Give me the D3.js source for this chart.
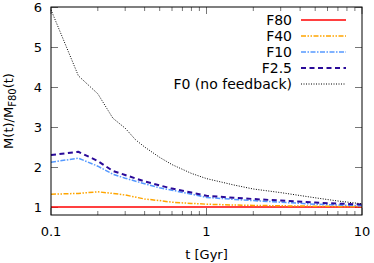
<!DOCTYPE html>
<html>
<head>
<meta charset="utf-8">
<script src="https://cdn.jsdelivr.net/npm/d3@7"></script>
<style>
  body { margin: 0; background: #fff; }
  text { font-family: "DejaVu Sans", sans-serif; }
</style>
</head>
<body>
<div id="chart"></div>
<script>
// time grid [Gyr]
var tF0 = [0.1, 0.15, 0.2, 0.25, 0.3, 0.35, 0.4, 0.5, 0.6, 0.8, 1, 1.5, 2, 3, 5, 7, 10];
var vF0 = [5.93, 4.28, 3.83, 3.22, 2.97, 2.68, 2.5, 2.24, 2.06, 1.84, 1.71, 1.55, 1.45, 1.36, 1.23, 1.15, 1.08];

var tGrid = [0.1, 0.15, 0.2, 0.25, 0.3, 0.4, 0.5, 0.6, 0.8, 1, 1.5, 2, 3, 5, 10];
var vF80 = [1, 1, 1, 1, 1, 1, 1, 1, 1, 1, 1, 1, 1, 1, 1];
var vF40 = [1.32, 1.34, 1.38, 1.34, 1.3, 1.2, 1.16, 1.12, 1.09, 1.07, 1.05, 1.04, 1.03, 1.02, 1.01];
var vF10 = [2.12, 2.22, 2.02, 1.82, 1.72, 1.58, 1.48, 1.42, 1.32, 1.24, 1.19, 1.16, 1.12, 1.07, 1.03];
var vF25 = [2.3, 2.38, 2.15, 1.9, 1.8, 1.64, 1.54, 1.46, 1.36, 1.28, 1.23, 1.2, 1.16, 1.11, 1.06];

var seriesNames = ["F80", "F40", "F10", "F2.5", "F0 (no feedback)"];
var yTicks = [1, 2, 3, 4, 5, 6];
var xTicks = [0.1, 1, 10];

var svgWidth = 374, svgHeight = 263;
var margin = { top: 7, right: 12, bottom: 48, left: 51 };
var width = svgWidth - margin.left - margin.right;
var height = svgHeight - margin.top - margin.bottom;

var svg = d3.select("#chart").append("svg")
    .attr("width", svgWidth)
    .attr("height", svgHeight);

var g = svg.append("g")
    .attr("transform", `translate(${margin.left}, ${margin.top})`);

var x = d3.scaleLog().domain([0.1, 10]).range([0, width]);
var y = d3.scaleLinear().domain([0.8, 6]).range([height, 0]);

// minor / major ticks on x (bottom + top, inward)
var minor = [];
[0.1, 1].forEach(function (dec) {
    for (var k = 2; k <= 9; k++) minor.push(dec * k);
});

var tickColor = "#777";
function xTicksAt(yPos, dir) {
    g.selectAll(null).data(minor).enter().append("line")
        .attr("x1", d => x(d)).attr("x2", d => x(d))
        .attr("y1", yPos).attr("y2", yPos + dir * 4)
        .attr("stroke", tickColor).attr("stroke-width", 1);
    g.selectAll(null).data(xTicks).enter().append("line")
        .attr("x1", d => x(d)).attr("x2", d => x(d))
        .attr("y1", yPos).attr("y2", yPos + dir * 7)
        .attr("stroke", tickColor).attr("stroke-width", 1);
}
xTicksAt(height, -1);
xTicksAt(0, 1);

function yTicksAt(xPos, dir) {
    g.selectAll(null).data(yTicks).enter().append("line")
        .attr("x1", xPos).attr("x2", xPos + dir * 7)
        .attr("y1", d => Math.round(y(d)) + 0.5).attr("y2", d => Math.round(y(d)) + 0.5)
        .attr("stroke", tickColor).attr("stroke-width", 1);
}
yTicksAt(0, 1);
yTicksAt(width, -1);

// tick labels
g.selectAll(null).data(yTicks).enter().append("text")
    .attr("x", -9).attr("y", d => y(d))
    .attr("dy", "0.36em")
    .attr("text-anchor", "end")
    .attr("font-size", 13)
    .text(d => d);

g.selectAll(null).data(xTicks).enter().append("text")
    .attr("x", d => x(d)).attr("y", height + 21)
    .attr("text-anchor", "middle")
    .attr("font-size", 13)
    .text(d => d);

// lines
var line = d3.line().x(d => x(d[0])).y(d => y(d[1]));
var styles = [
    { t: tGrid, v: vF80, color: "#ff0000", w: 1.6, dash: null },
    { t: tGrid, v: vF40, color: "#ffa500", w: 1.5, dash: "5,1.5,1.5,1.5,1.5,1.5" },
    { t: tGrid, v: vF10, color: "#5599ff", w: 1.5, dash: "5,1.5,1.5,1.5" },
    { t: tGrid, v: vF25, color: "#2a0a99", w: 2, dash: "5,3.5" },
    { t: tF0, v: vF0, color: "#000000", w: 1, dash: "1,1.5" }
];

var plot = g.append("g");
styles.forEach(function (s) {
    plot.append("path")
        .datum(d3.zip(s.t, s.v))
        .attr("d", line)
        .attr("fill", "none")
        .attr("stroke", s.color)
        .attr("stroke-width", s.w)
        .attr("stroke-dasharray", s.dash);
});

// border
g.append("rect")
    .attr("x", 0).attr("y", 0)
    .attr("width", width).attr("height", height)
    .attr("fill", "none").attr("stroke", "#000").attr("stroke-width", 1);

// legend
var legend = g.append("g");
seriesNames.forEach(function (name, i) {
    var ly = 13 + i * 16;
    legend.append("text")
        .attr("x", 241).attr("y", ly)
        .attr("dy", "0.36em")
        .attr("text-anchor", "end")
        .attr("font-size", 14)
        .text(name);
    legend.append("line")
        .attr("x1", 250).attr("x2", 295)
        .attr("y1", ly).attr("y2", ly)
        .attr("stroke", styles[i].color)
        .attr("stroke-width", styles[i].w)
        .attr("stroke-dasharray", styles[i].dash);
});

// axis titles
svg.append("text")
    .attr("x", margin.left + width / 2).attr("y", 259)
    .attr("text-anchor", "middle")
    .attr("font-size", 13)
    .text("t [Gyr]");

var yl = svg.append("text")
    .attr("transform", `translate(13, ${margin.top + height / 2}) rotate(-90)`)
    .attr("text-anchor", "middle")
    .attr("font-size", 13);
yl.append("tspan").text("M(t)/M");
yl.append("tspan").attr("font-size", 10).attr("dy", 3).text("F80");
yl.append("tspan").attr("dy", -3).text("(t)");
</script>
</body>
</html>
